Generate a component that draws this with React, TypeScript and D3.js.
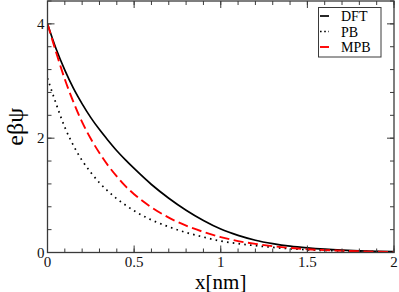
import React from "react";
import * as d3 from "d3";

const xs = [0, 0.05, 0.1, 0.15, 0.2, 0.25, 0.3, 0.35, 0.4, 0.45, 0.5, 0.6, 0.7, 0.8, 0.9, 1.0, 1.1, 1.2, 1.3, 1.4, 1.5, 1.6, 1.7, 1.8, 1.9, 2.0];
const dft = [4.0, 3.56, 3.19, 2.87, 2.6, 2.36, 2.15, 1.96, 1.78, 1.62, 1.47, 1.19, 0.95, 0.74, 0.56, 0.41, 0.3, 0.215, 0.155, 0.11, 0.08, 0.058, 0.042, 0.03, 0.021, 0.015];
const pb = [3.05, 2.6, 2.19, 1.87, 1.61, 1.4, 1.22, 1.07, 0.94, 0.83, 0.73, 0.57, 0.45, 0.35, 0.27, 0.2, 0.155, 0.12, 0.09, 0.065, 0.048, 0.035, 0.027, 0.02, 0.014, 0.01];
const mpb = [4.0, 3.5, 3.03, 2.63, 2.28, 1.99, 1.74, 1.52, 1.33, 1.16, 1.02, 0.79, 0.61, 0.47, 0.36, 0.27, 0.2, 0.15, 0.11, 0.08, 0.057, 0.042, 0.031, 0.022, 0.015, 0.01];

const xMajor = [0, 0.5, 1, 1.5, 2];
const xMinor = d3.range(0, 2.0001, 0.1);
const yMajor = [0, 2, 4];
const yMinor = d3.range(0, 4.4001, 0.4);
const xTickLabels = ["0", "0.5", "1", "1.5", "2"];
const yTickLabels = ["0", "2", "4"];

const legendNames = ["DFT", "PB", "MPB"];

export default function App() {
  const W = 399, H = 292;
  const L = 47.5, R = 394, T = 1, B = 252.5;
  const x = d3.scaleLinear().domain([0, 2]).range([L, R]);
  const y = d3.scaleLinear().domain([0, 4.4]).range([B, T]);
  const line = (vals: number[]) =>
    d3.line<number>().x((_, i) => x(xs[i])).y((d) => y(d)).curve(d3.curveMonotoneX)(vals) || "";

  const fs = (size: number) => ({ fontFamily: "'Liberation Serif'", fontSize: size + "px" });
  const axisColor = "#3a3a3a";
  const series = [
    { vals: dft, color: "#000", dash: undefined as string | undefined, w: 1.7 },
    { vals: pb, color: "#000", dash: "1.6 4.2", w: 1.7 },
    { vals: mpb, color: "#ff0000", dash: "10 4.5", w: 1.9 },
  ];

  return (
    <svg width={W} height={H} style={{ position: "absolute", left: 0, top: 0, background: "#fff" }}>
      <defs>
        <clipPath id="plotclip">
          <rect x={L} y={T} width={R - L} height={B - T} />
        </clipPath>
      </defs>
      <g clipPath="url(#plotclip)">
        {series.map((s, i) => (
          <path key={i} d={line(s.vals)} fill="none" stroke={s.color} strokeWidth={s.w} strokeDasharray={s.dash} />
        ))}
      </g>
      <rect x={L} y={T} width={R - L} height={B - T} fill="none" stroke={axisColor} strokeWidth={1.3} />
      {xMinor.map((v, i) => (
        <g key={"xm" + i}>
          <line x1={x(v)} x2={x(v)} y1={B} y2={B - 4} stroke={axisColor} strokeWidth={1} />
          <line x1={x(v)} x2={x(v)} y1={T} y2={T + 4} stroke={axisColor} strokeWidth={1} />
        </g>
      ))}
      {xMajor.map((v, i) => (
        <g key={"xM" + i}>
          <line x1={x(v)} x2={x(v)} y1={B} y2={B - 7} stroke={axisColor} strokeWidth={1} />
          <line x1={x(v)} x2={x(v)} y1={T} y2={T + 7} stroke={axisColor} strokeWidth={1} />
          <text x={x(v)} y={B + 14} textAnchor="middle" style={fs(15)} fill="#111">
            {xTickLabels[i]}
          </text>
        </g>
      ))}
      {yMinor.map((v, i) => (
        <g key={"ym" + i}>
          <line x1={L} x2={L + 4} y1={y(v)} y2={y(v)} stroke={axisColor} strokeWidth={1} />
          <line x1={R} x2={R - 4} y1={y(v)} y2={y(v)} stroke={axisColor} strokeWidth={1} />
        </g>
      ))}
      {yMajor.map((v, i) => (
        <g key={"yM" + i}>
          <line x1={L} x2={L + 7} y1={y(v)} y2={y(v)} stroke={axisColor} strokeWidth={1} />
          <line x1={R} x2={R - 7} y1={y(v)} y2={y(v)} stroke={axisColor} strokeWidth={1} />
          <text x={L - 3} y={y(v) + 5} textAnchor="end" style={fs(15)} fill="#111">
            {yTickLabels[i]}
          </text>
        </g>
      ))}
      <text x={(L + R) / 2} y={288.5} textAnchor="middle" style={fs(21)} fill="#000">
        x[nm]
      </text>
      <text
        transform={`translate(23, ${(T + B) / 2}) rotate(-90)`}
        textAnchor="middle"
        style={fs(24)}
        fill="#000"
      >
        eβψ
      </text>
      <rect x={318.5} y={7.5} width={62.5} height={49.5} fill="#fff" stroke={axisColor} strokeWidth={1} />
      {legendNames.map((n, i) => {
        const cy = 16 + i * 15.5;
        const s = series[i];
        return (
          <g key={"lg" + i}>
            <line x1={320} x2={329} y1={cy} y2={cy} stroke={s.color} strokeWidth={s.w} strokeDasharray={i === 1 ? "1.6 2.6" : undefined} />
            <text x={341} y={cy + 5} style={fs(14)} fill="#000">
              {n}
            </text>
          </g>
        );
      })}
    </svg>
  );
}
